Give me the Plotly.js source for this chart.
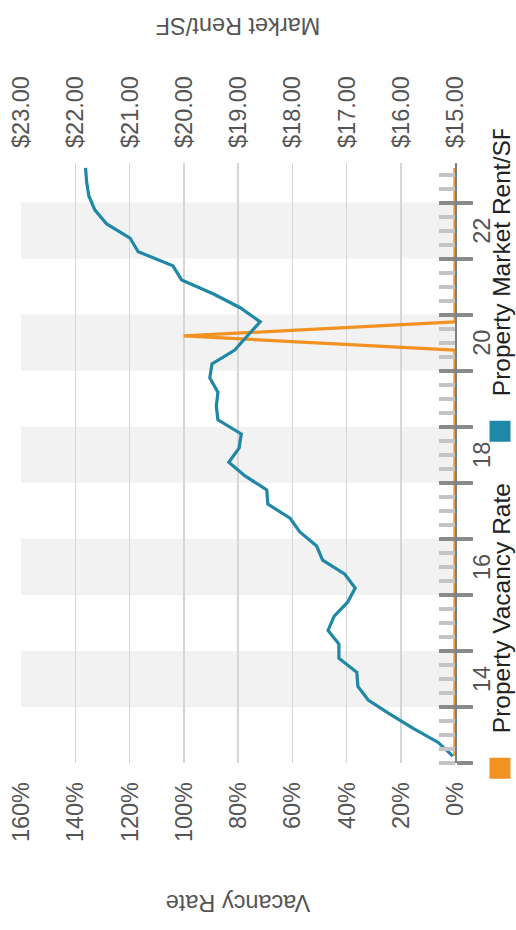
<!DOCTYPE html>
<html>
<head>
<meta charset="utf-8">
<script src="https://cdn.plot.ly/plotly-3.0.1.min.js"></script>
<style>
  html, body { margin: 0; padding: 0; width: 516px; height: 930px; overflow: hidden; background: #ffffff; }
  #chart { position: absolute; left: 0; top: 0; width: 930px; height: 516px;
           transform-origin: 0 0; transform: translate(0px, 930px) rotate(-90deg); }
</style>
</head>
<body>
<div id="chart"></div>
<script>
// Quarter mid-points, 2013 Q1 .. 2023 Q3
const quarters = [
  "2013-02-15","2013-05-15","2013-08-15","2013-11-15",
  "2014-02-15","2014-05-15","2014-08-15","2014-11-15",
  "2015-02-15","2015-05-15","2015-08-15","2015-11-15",
  "2016-02-15","2016-05-15","2016-08-15","2016-11-15",
  "2017-02-15","2017-05-15","2017-08-15","2017-11-15",
  "2018-02-15","2018-05-15","2018-08-15","2018-11-15",
  "2019-02-15","2019-05-15","2019-08-15","2019-11-15",
  "2020-02-15","2020-05-15","2020-08-15","2020-11-15",
  "2021-02-15","2021-05-15","2021-08-15","2021-11-15",
  "2022-02-15","2022-05-15","2022-08-15","2022-11-15",
  "2023-02-15","2023-05-15","2023-08-15"
];
const vacancyRate = [
  0,0,0,0, 0,0,0,0, 0,0,0,0, 0,0,0,0, 0,0,0,0, 0,0,0,0, 0,0,0,0,
  0,0,1.0,0, 0,0,0,0, 0,0,0,0, 0,0,0
];
const marketRent = [
  15.04,15.31,15.77,16.20, 16.60,16.79,16.81,17.14,
  17.14,17.34,17.23,16.98, 16.84,17.03,17.44,17.55,
  17.86,18.04,18.45,18.47, 18.87,19.17,18.98,18.94,
  19.37,19.40,19.37,19.52, 19.48,19.06,18.83,18.59,
  18.96,19.45,20.04,20.20, 20.84,20.99,21.42,21.64,
  21.75,21.79,21.81
];
const yearLabels = ["14","16","18","20","22"];
const shadedYears = [2014, 2016, 2018, 2020, 2022];
const seriesNames = ["Property Vacancy Rate", "Property Market Rent/SF"];
const seriesColors = ["#f39222", "#1f88a6"];

const xRange = ["2013-01-01", "2023-09-16"];
const FONT = '"Liberation Sans", Arial, Helvetica, sans-serif';

const traces = [
  { x: quarters, y: vacancyRate, type: "scatter", mode: "lines", name: seriesNames[0],
    line: { color: seriesColors[0], width: 3.2 }, xaxis: "x", yaxis: "y", showlegend: false },
  { x: quarters, y: marketRent, type: "scatter", mode: "lines", name: seriesNames[1],
    line: { color: seriesColors[1], width: 3.2 }, xaxis: "x", yaxis: "y2", showlegend: false },
  // legend swatches
  { x: [null], y: [null], type: "scatter", mode: "markers", name: seriesNames[0],
    marker: { symbol: "square", size: 16, color: seriesColors[0], line: { color: seriesColors[0], width: 5 } },
    xaxis: "x", yaxis: "y", hoverinfo: "skip" },
  { x: [null], y: [null], type: "scatter", mode: "markers", name: seriesNames[1],
    marker: { symbol: "square", size: 16, color: seriesColors[1], line: { color: seriesColors[1], width: 5 } },
    xaxis: "x", yaxis: "y", hoverinfo: "skip" },
  // helpers so overlay axes exist
  { x: [null], y: [null], type: "scatter", mode: "markers", xaxis: "x2", yaxis: "y", showlegend: false, hoverinfo: "skip" },
  { x: [null], y: [null], type: "scatter", mode: "markers", xaxis: "x3", yaxis: "y", showlegend: false, hoverinfo: "skip" }
];

const shapes = shadedYears.map(yr => ({
  type: "rect", xref: "x", yref: "paper",
  x0: yr + "-01-01", x1: (yr + 1) + "-01-01", y0: 0, y1: 1,
  fillcolor: "#f2f2f2", line: { width: 0 }, layer: "below"
}));

const layout = {
  width: 930, height: 516,
  margin: { l: 167, r: 163, t: 21, b: 61, autoexpand: false },
  paper_bgcolor: "#ffffff", plot_bgcolor: "rgba(0,0,0,0)",
  font: { family: FONT, size: 23.5, color: "#555555" },
  showlegend: true,
  legend: {
    orientation: "h", x: -0.067, xanchor: "left", y: -0.052, yanchor: "top",
    font: { family: FONT, size: 24.5, color: "#222222" },
    itemwidth: 60, entrywidth: 262, bgcolor: "rgba(0,0,0,0)"
  },
  xaxis: {
    type: "date", range: xRange, anchor: "y", automargin: false,
    showgrid: false, zeroline: false,
    showline: true, linecolor: "#808080", linewidth: 2,
    tickmode: "linear", tick0: "2013-01-01", dtick: "M12",
    ticks: "outside", ticklen: 16, tickwidth: 4, tickcolor: "#8a8a8a",
    showticklabels: false,
    minor: { tickmode: "linear", tick0: "2013-01-01", dtick: "M3", ticks: "inside",
             ticklen: 16, tickwidth: 4, tickcolor: "#c4c4c4", showgrid: false }
  },
  xaxis2: {
    type: "date", range: xRange, overlaying: "x", anchor: "y", side: "bottom", automargin: false,
    showgrid: false, zeroline: false, showline: false,
    tickmode: "linear", tick0: "2013-01-01", dtick: "M12",
    ticks: "inside", ticklen: 16, tickwidth: 4, tickcolor: "#8a8a8a",
    showticklabels: false
  },
  xaxis3: {
    type: "date", range: xRange, overlaying: "x", anchor: "y", side: "bottom", automargin: false,
    showgrid: false, zeroline: false, showline: false,
    tickmode: "array",
    tickvals: yearLabels.map(l => "20" + l + "-07-02"),
    ticktext: yearLabels,
    ticks: "", ticklabelstandoff: 10,
    tickfont: { family: FONT, size: 23.5, color: "#555555" }
  },
  yaxis: {
    range: [0, 1.6], dtick: 0.2, tickformat: ".0%", automargin: false,
    showgrid: true, gridcolor: "#d6d6d6", gridwidth: 1.5,
    zeroline: false, showline: false, ticks: "",
    ticklabelstandoff: 18,
    tickfont: { family: FONT, size: 23.5, color: "#555555" },
    title: { text: "Vacancy Rate", font: { family: FONT, size: 23.5, color: "#555555" }, standoff: 45 }
  },
  yaxis2: {
    range: [15, 23], dtick: 1, tickformat: "$.2f", automargin: false,
    overlaying: "y", side: "right", anchor: "x",
    showgrid: false, zeroline: false, showline: false, ticks: "",
    ticklabelstandoff: 14,
    tickfont: { family: FONT, size: 23.5, color: "#555555" },
    title: { text: "Market Rent/SF", font: { family: FONT, size: 23.5, color: "#555555" }, standoff: 42 }
  },
  shapes: shapes
};

Plotly.newPlot("chart", traces, layout, { displayModeBar: false, staticPlot: true });
</script>
</body>
</html>
